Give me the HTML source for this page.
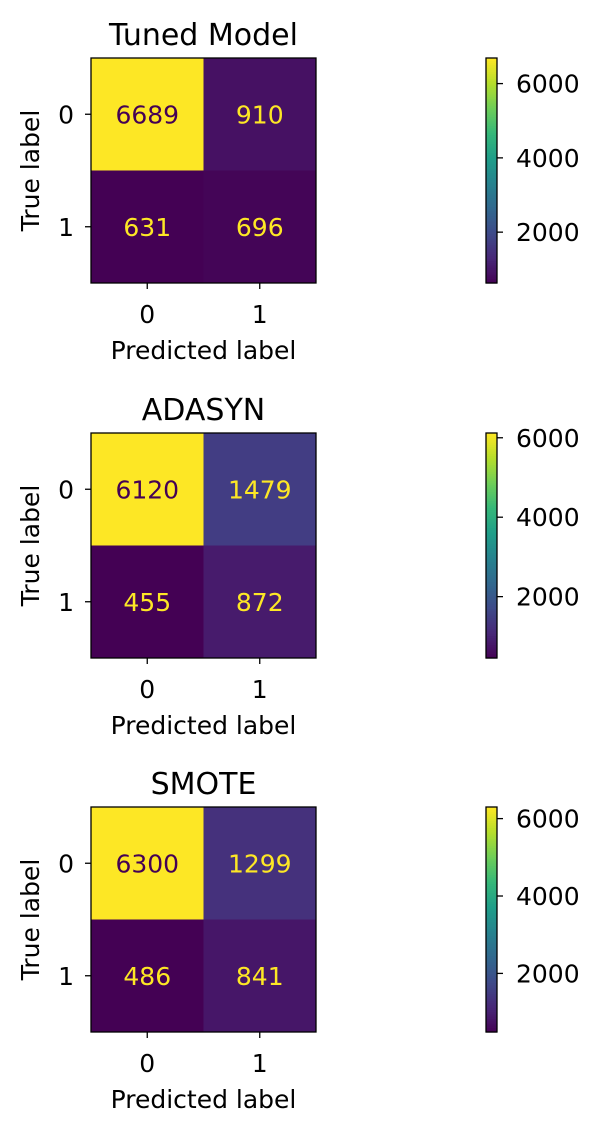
<!DOCTYPE html>
<html><head><meta charset="utf-8"><style>
body{margin:0;background:#fff;}
svg text{font-family:"DejaVu Sans","Liberation Sans",sans-serif;}
</style></head><body>
<svg id="chart" width="602" height="1132" xmlns="http://www.w3.org/2000/svg"></svg>
<script>
const titles = ["Tuned Model","ADASYN","SMOTE"];
const matTuned = [[6689,910],[631,696]];
const matAdasyn = [[6120,1479],[455,872]];
const matSmote = [[6300,1299],[486,841]];
const matrices = [matTuned, matAdasyn, matSmote];
const classLabels = ["0","1"];
const cbTicks = [2000,4000,6000];

const VIR = [[68,1,84],[72,40,120],[62,74,137],[49,104,142],[38,130,142],[31,158,137],[53,183,121],[110,206,88],[181,222,43],[253,231,37]];
function viridis(t){t=Math.max(0,Math.min(1,t));const s=t*(VIR.length-1);const i=Math.min(Math.floor(s),VIR.length-2);const f=s-i;
 const c=VIR[i].map((v,k)=>Math.round(v+(VIR[i+1][k]-v)*f));return `rgb(${c[0]},${c[1]},${c[2]})`;}
const NS="http://www.w3.org/2000/svg";
const svg=document.getElementById('chart');
function mk(tag,attrs,parent,text){const e=document.createElementNS(NS,tag);for(const k in attrs)e.setAttribute(k,attrs[k]);if(text!==undefined)e.textContent=text;(parent||svg).appendChild(e);return e;}

const FS=25;
const panelTops=[58,433,807];
const X0=91, SIZE=225, CBX=486, CBW=11;
matrices.forEach((m,p)=>{
  const top=panelTops[p];
  const g=mk('g',{});
  
  
  const vals=m.flat();const mn=Math.min(...vals),mx=Math.max(...vals);
  const n=m.length, cell=SIZE/n;
  const xs=i=>X0+cell*(i+0.5), ys=i=>top+cell*(i+0.5);
  const t=mk('text',{x:X0+SIZE/2,y:top-13,'font-size':30,'text-anchor':'middle',fill:'#000'},g,titles[p]);
  
  
  m.forEach((row,r)=>row.forEach((v,c)=>{
    const tt=(v-mn)/(mx-mn);
    const rc=mk('rect',{x:X0+cell*c,y:top+cell*r,width:cell+0.5,height:cell+0.5,fill:viridis(tt)},g);
    
    
    const tx=mk('text',{x:xs(c),y:ys(r)+9,'font-size':FS,'text-anchor':'middle',fill:tt>0.5?'#440154':'#fde725'},g,String(v));
    
    
  }));
  mk('rect',{x:X0,y:top,width:SIZE,height:SIZE,fill:'none',stroke:'#000','stroke-width':1.3},g);
  classLabels.forEach((l,i)=>{
    mk('line',{x1:xs(i),x2:xs(i),y1:top+SIZE,y2:top+SIZE+6,stroke:'#000','stroke-width':1.3},g);
    const a=mk('text',{x:xs(i),y:top+SIZE+40,'font-size':FS,'text-anchor':'middle'},g,l);
    
    
    mk('line',{x1:X0-6,x2:X0,y1:ys(i),y2:ys(i),stroke:'#000','stroke-width':1.3},g);
    const b=mk('text',{x:X0-17,y:ys(i)+9,'font-size':FS,'text-anchor':'end'},g,l);
    
    
  });
  const xl=mk('text',{x:X0+SIZE/2,y:top+SIZE+76,'font-size':FS,'text-anchor':'middle'},g,'Predicted label');
  
  
  const yl=mk('text',{x:0,y:0,'font-size':FS,'text-anchor':'middle',transform:`translate(39,${top+SIZE/2}) rotate(-90)`},g,'True label');
  
  
  const cb=mk('g',{},g);
  
  
  const N=100;
  for(let k=0;k<N;k++){mk('rect',{x:CBX,y:top+SIZE-(k+1)*SIZE/N,width:CBW,height:SIZE/N+0.6,fill:viridis((k+0.5)/N)},cb);}
  mk('rect',{x:CBX,y:top,width:CBW,height:SIZE,fill:'none',stroke:'#000','stroke-width':1.3},cb);
  cbTicks.forEach(tv=>{
    if(tv<mn||tv>mx)return;
    const y=top+SIZE-(tv-mn)/(mx-mn)*SIZE;
    mk('line',{x1:CBX+CBW,x2:CBX+CBW+6,y1:y,y2:y,stroke:'#000','stroke-width':1.3},cb);
    const lt=mk('text',{x:CBX+CBW+19,y:y+9,'font-size':FS},cb,String(tv));
    
    
  });
});
</script>
</body></html>
